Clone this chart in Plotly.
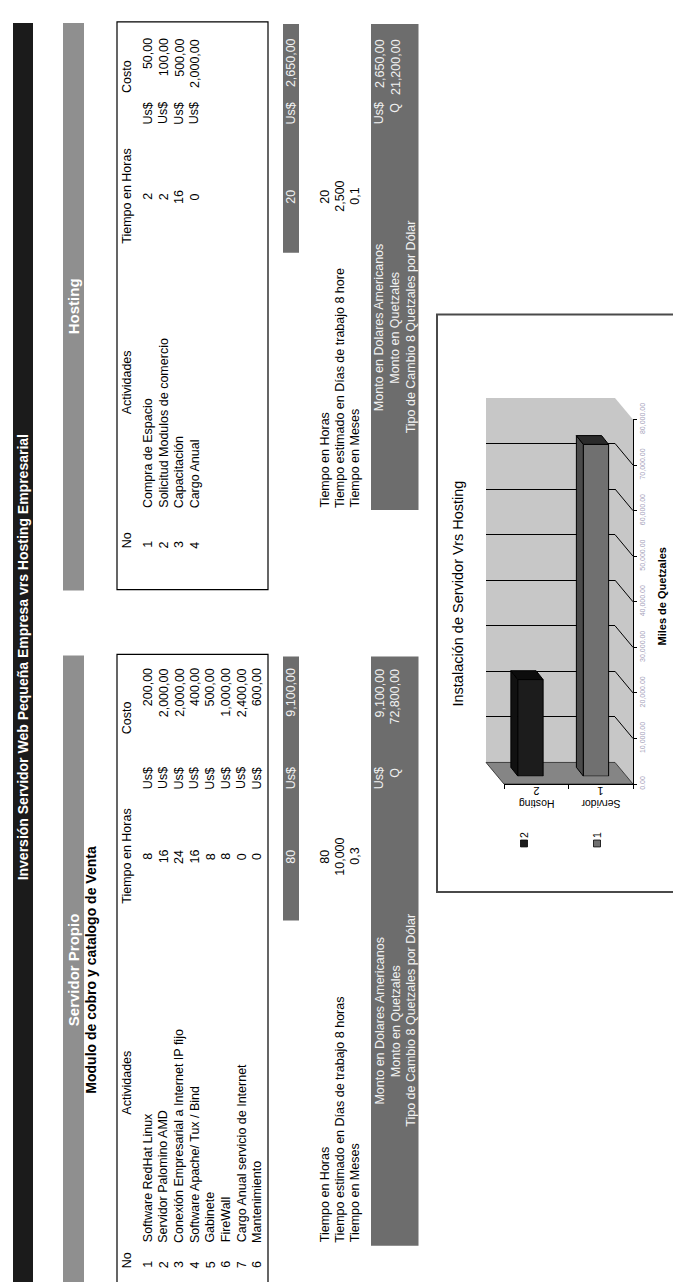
import plotly.graph_objects as go

W, H = 673, 1288
FONT = "Liberation Sans, Arial, sans-serif"

# ---------------- data ----------------
title_text = "Inversión Servidor Web Pequeña Empresa vrs Hosting Empresarial"
srv_title = "Servidor Propio"
srv_subtitle = "Modulo de cobro y catalogo de Venta"
host_title = "Hosting"
hdr_no, hdr_act, hdr_hours, hdr_cost = "No", "Actividades", "Tiempo en Horas", "Costo"
currency_usd, currency_q = "Us$", "Q"

srv_no = ["1", "2", "3", "4", "5", "6", "7", "6"]
srv_activities = ["Software RedHat Linux", "Servidor Palomino AMD",
                  "Conexión Empresarial a Internet IP fijo", "Software Apache/ Tux / Bind",
                  "Gabinete", "FireWall", "Cargo Anual servicio de Internet", "Mantenimiento"]
srv_hours = [8, 16, 24, 16, 8, 8, 0, 0]
srv_costs = ["200,00", "2,000,00", "2,000,00", "400,00", "500,00", "1,000,00", "2,400,00", "600,00"]
srv_total_hours = "80"
srv_total_cost = "9,100,00"
srv_time_labels = ["Tiempo en Horas", "Tiempo estimado en Días de trabajo 8 horas", "Tiempo en Meses"]
srv_time_values = ["80", "10,000", "0,3"]
srv_amounts = ["9,100,00", "72,800,00"]

host_no = ["1", "2", "3", "4"]
host_activities = ["Compra de Espacio", "Solicitud Modulos de comercio", "Capacitación", "Cargo Anual"]
host_hours = [2, 2, 16, 0]
host_costs = ["50,00", "100,00", "500,00", "2,000,00"]
host_total_hours = "20"
host_total_cost = "2,650,00"
host_time_labels = ["Tiempo en Horas", "Tiempo estimado en Días de trabajo 8 hore", "Tiempo en Meses"]
host_time_values = ["20", "2,500", "0,1"]
host_amounts = ["2,650,00", "21,200,00"]

money_labels = ["Monto en Dolares Americanos", "Monto en Quetzales", "Tipo de Cambio 8 Quetzales por Dólar"]

chart_title = "Instalación de Servidor Vrs Hosting"
chart_categories = ["Hosting", "Servidor"]
chart_codes = ["2", "1"]
chart_values = [21200, 72800]
chart_axis_title = "Miles de Quetzales"
chart_axis_max = 80000
chart_axis_step = 10000

# ---------------- layout geometry (pixels, portrait page) ----------------
ROW0, ROW_STEP, HEAD_X = 148, 15.6, 127
TOTAL_X = 291
TIME_X = [325, 340, 355]
MONEY_X = [379.8, 395.4, 411]

SRV = dict(y0=650, no=1274, act=1248, act_head=1085, hours=855, usd=764, cost=663,
           cost_head=714, lab=1022, tband_end=920, dband_end=1251, box_end=1300, sec_end=1290)
HOST = dict(y0=6, no=541, act=500, act_head=372, hours=183, usd=87, cost=22,
            cost_head=61, lab=316, tband_end=240, dband_end=502, box_end=583, sec_end=584)

C_TITLE = "#1b1b1b"
C_SECTION = "#8f8f8f"
C_DARK = "#6d6d6d"
C_LIGHT_TXT = "#f2f2f2"
C_WALL = "#c7c7c7"
C_FLOOR = "#858585"

BACK = dict(x0=486, x1=615, y0=759, ytop=387.8)
BAR = dict(x0=497.75, x1=628.75, y0=773, ytop=401.8)
FRONT = dict(x0=504, x1=633, y0=781, ytop=409.8)

ann, shapes = [], []


def T(x, y, s, anchor="middle", size=12.5, color="black", bold=False, angle=-90, xref="x", yref="y"):
    ann.append(dict(x=x, y=y, xref=xref, yref=yref, text=(f"<b>{s}</b>" if bold else s),
                    showarrow=False, textangle=angle, xanchor="center", yanchor=anchor,
                    borderpad=0, borderwidth=0, font=dict(family=FONT, size=size, color=color)))


def R(x0, y0, x1, y1, fill=None, line=None, lw=1.0):
    shapes.append(dict(type="rect", xref="x", yref="y", x0=x0, y0=y0, x1=x1, y1=y1, layer="below",
                       fillcolor=fill or "rgba(0,0,0,0)",
                       line=dict(color=line or "rgba(0,0,0,0)", width=lw if line else 0)))


def P(points, fill, line=None, lw=0.8):
    path = "M " + " L ".join(f"{a},{b}" for a, b in points) + " Z"
    shapes.append(dict(type="path", xref="x", yref="y", path=path, layer="below", fillcolor=fill,
                       line=dict(color=line or "rgba(0,0,0,0)", width=lw if line else 0)))


def L(x0, y0, x1, y1, color="black", lw=1.0):
    shapes.append(dict(type="line", xref="x", yref="y", x0=x0, y0=y0, x1=x1, y1=y1, layer="below",
                       line=dict(color=color, width=lw)))


def row_x(i):
    return ROW0 + ROW_STEP * i


# ---------------- page bands ----------------
R(13, 6, 33, 1292, fill=C_TITLE)
T(23, 652, title_text, size=14, color="white", bold=True)


def section(g, name, no, acts, hours, costs, thours, tcost, tlabels, tvalues, amounts, sec_center, subtitle=None):
    R(63, g["y0"], 84, g["sec_end"], fill=C_SECTION)
    T(73.5, sec_center, name, size=15, color="white", bold=True)
    if subtitle:
        T(91, sec_center, subtitle, size=14, bold=True)
    # table box
    R(117, g["y0"] - 1, 268, g["box_end"], line="black", lw=1.2)
    T(HEAD_X, g["no"], hdr_no, anchor="bottom")
    T(HEAD_X, g["act_head"], hdr_act)
    T(HEAD_X, g["hours"], hdr_hours)
    T(HEAD_X, g["cost_head"], hdr_cost)
    for i in range(len(no)):
        x = row_x(i)
        T(x, g["no"], no[i], anchor="bottom")
        T(x, g["act"], acts[i], anchor="bottom")
        T(x, g["hours"], str(hours[i]))
        T(x, g["usd"], currency_usd, anchor="top")
        T(x, g["cost"], costs[i], anchor="top")
    # totals band
    R(283, g["y0"] + 1, 299, g["tband_end"], fill=C_DARK)
    T(TOTAL_X, g["hours"], thours, color=C_LIGHT_TXT)
    T(TOTAL_X, g["usd"], currency_usd, anchor="top", color=C_LIGHT_TXT)
    T(TOTAL_X, g["cost"], tcost, anchor="top", color=C_LIGHT_TXT)
    # time lines
    for i in range(3):
        T(TIME_X[i], g["act"], tlabels[i], anchor="bottom")
        T(TIME_X[i], g["hours"], tvalues[i])
    # money band
    R(371, g["y0"] + 1, 418.5, g["dband_end"], fill=C_DARK)
    for i in range(3):
        T(MONEY_X[i], g["lab"], money_labels[i], color=C_LIGHT_TXT)
    T(MONEY_X[0], g["usd"], currency_usd, anchor="top", color=C_LIGHT_TXT)
    T(MONEY_X[0], g["cost"], amounts[0], anchor="top", color=C_LIGHT_TXT)
    T(MONEY_X[1], g["usd"], currency_q, anchor="top", color=C_LIGHT_TXT)
    T(MONEY_X[1], g["cost"], amounts[1], anchor="top", color=C_LIGHT_TXT)


section(SRV, srv_title, srv_no, srv_activities, srv_hours, srv_costs, srv_total_hours, srv_total_cost,
        srv_time_labels, srv_time_values, srv_amounts, 970, subtitle=srv_subtitle)
section(HOST, host_title, host_no, host_activities, host_hours, host_costs, host_total_hours, host_total_cost,
        host_time_labels, host_time_values, host_amounts, 295)

# ---------------- chart frame / walls ----------------
R(437, 303, 690, 891, fill="white", line="#4a4a4a", lw=2)


def vpx(plane, v):
    return plane["y0"] - (plane["y0"] - plane["ytop"]) * v / chart_axis_max


R(BACK["x0"], BACK["ytop"], BACK["x1"], BACK["y0"], fill=C_WALL)
P([(BACK["x1"], BACK["ytop"]), (FRONT["x1"], FRONT["ytop"]), (FRONT["x1"], FRONT["y0"]),
   (BACK["x1"], BACK["y0"])], fill=C_WALL)
P([(BACK["x0"], BACK["y0"]), (BACK["x1"], BACK["y0"]), (FRONT["x1"], FRONT["y0"]),
   (FRONT["x0"], FRONT["y0"])], fill=C_FLOOR, line="#222222", lw=0.8)
for v in range(chart_axis_step, chart_axis_max, chart_axis_step):
    L(BACK["x1"], vpx(BACK, v), FRONT["x1"], vpx(FRONT, v), lw=1)


def xdom(p):
    return [p["x0"] / W, p["x1"] / W]


def ydom(p):
    return [(H - p["y0"]) / H, (H - p["ytop"]) / H]


fig = go.Figure()
for ax in ["", "2", "4"]:
    fig.add_trace(go.Scatter(x=[0], y=[0], mode="markers", marker=dict(opacity=0), hoverinfo="skip",
                             xaxis="x" + ax, yaxis="y" + ax, showlegend=False))

# bars (bar plane)
bar_colors = ["#1c1c1c", "#707070"]
top_colors = ["#0c0c0c", "#2a2a2a"]
side_colors = ["#111111", "#4a4a4a"]
BW = 0.385
fig.add_trace(go.Bar(x=list(range(len(chart_values))), y=chart_values, width=BW,
                     marker=dict(color=bar_colors, line=dict(color="black", width=1)),
                     xaxis="x3", yaxis="y3", showlegend=False, hoverinfo="skip"))
px_per_x = (BAR["x1"] - BAR["x0"]) / 2.0
px_per_v = (BAR["y0"] - BAR["ytop"]) / chart_axis_max
dxu = -7 / px_per_x
dyu = 9 / px_per_v
for i, v in enumerate(chart_values):
    a, b = i - BW / 2, i + BW / 2
    top = f"M {a},{v} L {b},{v} L {b+dxu},{v+dyu} L {a+dxu},{v+dyu} Z"
    side = f"M {a},0 L {a},{v} L {a+dxu},{v+dyu} L {a+dxu},{dyu} Z"
    for pth, col in [(side, side_colors[i]), (top, top_colors[i])]:
        shapes.append(dict(type="path", xref="x3", yref="y3", path=pth, layer="below", fillcolor=col,
                           line=dict(color="black", width=1)))

# chart texts
T(458, 587, chart_title, size=14.5)
T(662, 590, chart_axis_title, size=11, bold=True)
for i, (code, cat) in enumerate(zip(chart_codes, chart_categories)):
    T(i, 788, code, size=11, angle=180, xref="x4")
    T(i, 802, cat, size=10.5, angle=180, xref="x4")
# legend
LEG_X = {"2": 524, "1": 597}
LEG_COL = {"2": bar_colors[0], "1": bar_colors[1]}
for code in ["2", "1"]:
    lx = LEG_X[code]
    R(lx - 3.5, 838, lx + 3.5, 845, fill=LEG_COL[code], line="black", lw=0.8)
    T(lx, 836, code, anchor="bottom", size=10.5)

back_grid_vals = list(range(chart_axis_step, chart_axis_max, chart_axis_step))
hidden = dict(visible=False, showgrid=False, zeroline=False, fixedrange=True)
fig.update_layout(
    width=W, height=H, margin=dict(l=0, r=0, t=0, b=0), autosize=False,
    paper_bgcolor="white", plot_bgcolor="rgba(0,0,0,0)", showlegend=False, hovermode=False,
    xaxis=dict(range=[0, W], domain=[0, 1], anchor="y", **hidden),
    yaxis=dict(range=[H, 0], domain=[0, 1], anchor="x", **hidden),
    xaxis2=dict(range=[-0.5, 1.5], domain=xdom(BACK), anchor="y2", **hidden),
    yaxis2=dict(range=[0, chart_axis_max], domain=ydom(BACK), anchor="x2", showgrid=True, gridcolor="black",
                gridwidth=1, tickmode="array", tickvals=back_grid_vals, showticklabels=False, zeroline=False,
                showline=False, ticks="", fixedrange=True),
    xaxis3=dict(range=[-0.5, 1.5], domain=xdom(BAR), anchor="y3", **hidden),
    yaxis3=dict(range=[0, chart_axis_max], domain=ydom(BAR), anchor="x3", **hidden),
    xaxis4=dict(range=[-0.5, 1.5], domain=xdom(FRONT), anchor="y4", showline=True, linecolor="black",
                linewidth=1, tickvals=[-0.5, 0.5, 1.5], ticks="outside", ticklen=4, tickcolor="black",
                showticklabels=False, showgrid=False, zeroline=False, fixedrange=True),
    yaxis4=dict(range=[0, chart_axis_max], domain=ydom(FRONT), anchor="x4", side="right", showline=True,
                linecolor="black", linewidth=1, dtick=chart_axis_step, ticks="outside", ticklen=3,
                tickcolor="black", tickformat=",.2f", tickangle=-90, showgrid=False, zeroline=False,
                tickfont=dict(family=FONT, size=7, color="#a4a2ba"), fixedrange=True),
    annotations=ann, shapes=shapes,
)

fig.write_html("out.html", config={"displayModeBar": False})
